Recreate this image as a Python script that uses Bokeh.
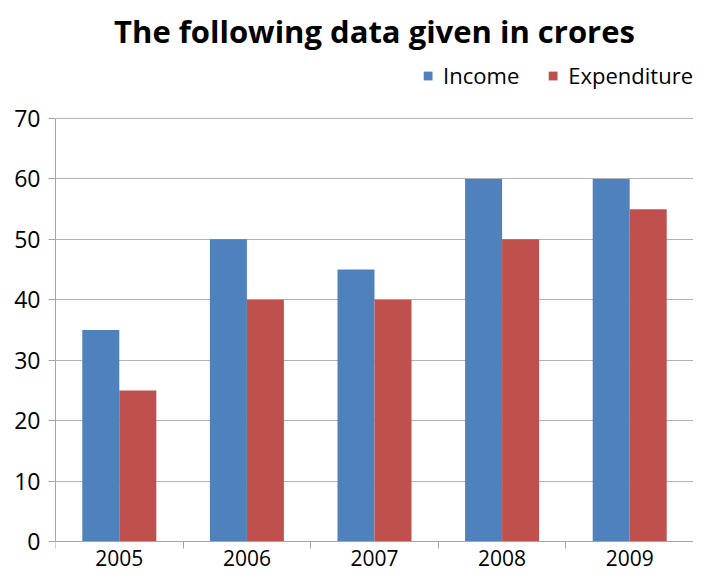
from bokeh.plotting import figure
from bokeh.models import Range1d, FixedTicker, Legend, LegendItem, ColumnDataSource
from bokeh.embed import file_html
from bokeh.resources import INLINE

years = ["2005", "2006", "2007", "2008", "2009"]
income = [35, 50, 45, 60, 60]
expenditure = [25, 40, 40, 50, 55]
y_ticks = [0, 10, 20, 30, 40, 50, 60, 70]

pos = [i + 0.5 for i in range(len(years))]
bw = 0.29
src = ColumnDataSource(dict(
    xi=[p - bw / 2 for p in pos],
    xe=[p + bw / 2 for p in pos],
    income=income,
    expenditure=expenditure,
))

p = figure(width=693, height=571, output_backend="svg", toolbar_location=None,
           x_range=Range1d(0, len(years)), y_range=Range1d(-4.96, 79.6),
           title="The following data given in crores")
p.min_border_left = 55
p.min_border_right = 0
p.min_border_top = 60
p.min_border_bottom = 0
p.outline_line_color = None
p.background_fill_color = "white"
p.border_fill_color = "white"

p.title.text_font = "Open Sans"
p.title.text_font_style = "bold"
p.title.text_font_size = "31px"
p.title.align = "center"
p.title.vertical_align = "top"
p.title.text_color = "black"
p.title.standoff = 14

r1 = p.vbar(x="xi", top="income", width=bw, source=src, fill_color="#4F81BD", line_color=None)
r2 = p.vbar(x="xe", top="expenditure", width=bw, source=src, fill_color="#C0504D", line_color=None)

xt = FixedTicker(ticks=pos, minor_ticks=list(range(len(years) + 1)))
p.xaxis.fixed_location = 0
p.xaxis.ticker = xt
p.xaxis.major_label_overrides = {pp: y for pp, y in zip(pos, years)}
p.xaxis.major_tick_line_color = None
p.xaxis.major_tick_in = 0
p.xaxis.major_tick_out = 0
p.xaxis.minor_tick_in = 0
p.xaxis.minor_tick_out = 7
p.xaxis.minor_tick_line_color = "#a6a6a6"
p.xaxis.axis_line_color = "#a6a6a6"
p.xaxis.major_label_text_font = "Open Sans"
p.xaxis.major_label_text_font_size = "21px"
p.xaxis.major_label_text_color = "black"
p.xaxis.major_label_standoff = 1

p.yaxis.ticker = FixedTicker(ticks=y_ticks)
p.yaxis.bounds = (0, 70)
p.yaxis.minor_tick_line_color = None
p.yaxis.major_tick_in = 0
p.yaxis.major_tick_out = 7
p.yaxis.major_tick_line_color = "#a6a6a6"
p.yaxis.axis_line_color = "#a6a6a6"
p.yaxis.major_label_text_font = "Open Sans"
p.yaxis.major_label_text_font_size = "23px"
p.yaxis.major_label_text_color = "black"
p.yaxis.major_label_standoff = 8

p.xgrid.grid_line_color = None
p.ygrid.ticker = FixedTicker(ticks=y_ticks)
p.ygrid.grid_line_color = "#b3b3b3"

legend = Legend(items=[LegendItem(label="Income", renderers=[r1]),
                       LegendItem(label="Expenditure", renderers=[r2])],
                orientation="horizontal", location="top_right")
legend.label_text_font = "Open Sans"
legend.label_text_font_size = "22px"
legend.label_text_color = "black"
legend.glyph_width = 11
legend.glyph_height = 11
legend.spacing = 28
legend.label_standoff = 10
legend.border_line_color = None
legend.background_fill_alpha = 0
legend.margin = 0
legend.padding = 4
p.add_layout(legend, "center")

open("out.html", "w").write(file_html(p, INLINE))
